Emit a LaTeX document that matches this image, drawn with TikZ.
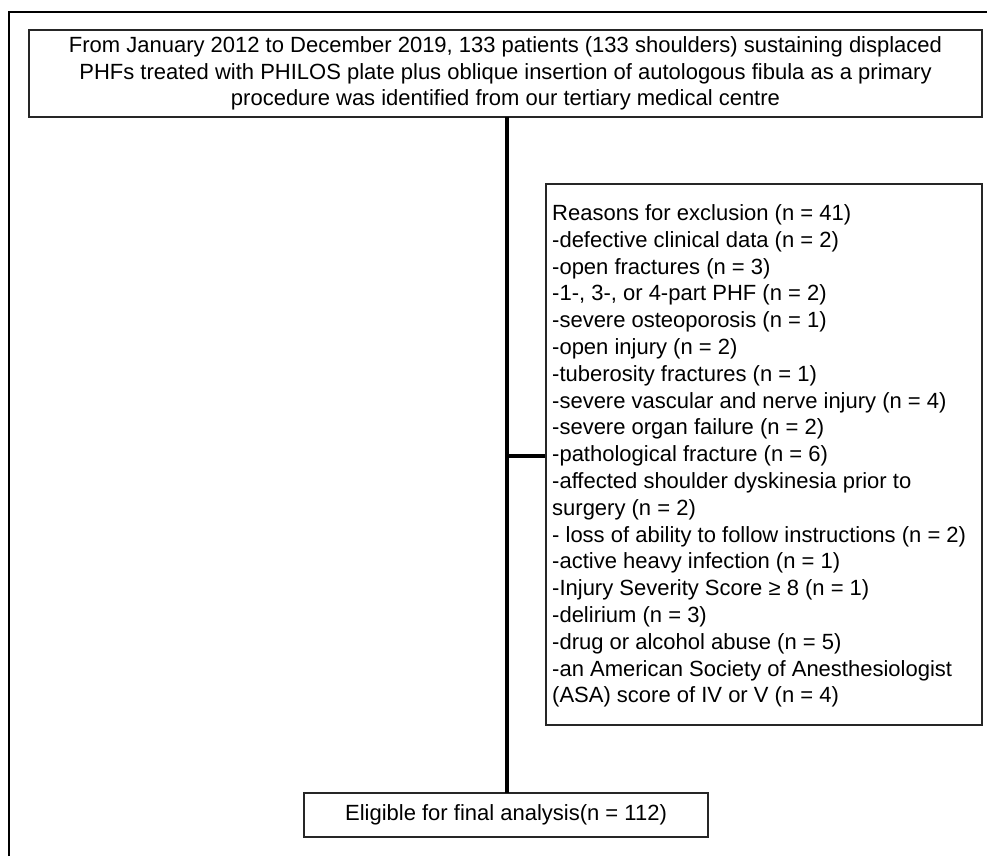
\documentclass[tikz,border=0pt]{standalone}
\usepackage{fontspec}
\setmainfont{Liberation Sans}
\begin{document}
\begin{tikzpicture}[x=1pt,y=-1pt,
  boxstyle/.style={draw=black!85, line width=1.8pt, fill=white, inner sep=0pt,
    font=\fontsize{22}{26.4}\selectfont},
  conn/.style={draw=black, line width=4pt},
  frame/.style={draw=black, line width=2.6pt}]
\useasboundingbox (0,0) rectangle (987,856);
\draw[frame] (9,856) -- (9,12) -- (987,12);
\node[boxstyle, minimum width=953pt, minimum height=87pt, align=center] (top) at (505.5,73.5)
  {From January 2012 to December 2019, 133 patients (133 shoulders) sustaining displaced\\
   PHFs treated with PHILOS plate plus oblique insertion of autologous fibula as a primary\\
   procedure was identified from our tertiary medical centre};
\node[boxstyle, minimum width=436pt, minimum height=541pt] (excl) at (764,454.5) {};
\node[inner sep=0pt, anchor=west, align=left,
  font=\fontsize{22}{26.8}\selectfont] (excltext) at (552,456)
  {Reasons for exclusion (n = 41)\\
   -defective clinical data (n = 2)\\
   -open fractures (n = 3)\\
   -1-, 3-, or 4-part PHF (n = 2)\\
   -severe osteoporosis (n = 1)\\
   -open injury (n = 2)\\
   -tuberosity fractures (n = 1)\\
   -severe vascular and nerve injury (n = 4)\\
   -severe organ failure (n = 2)\\
   -pathological fracture (n = 6)\\
   -affected shoulder dyskinesia prior to\\
   surgery (n = 2)\\
   - loss of ability to follow instructions (n = 2)\\
   -active heavy infection (n = 1)\\
   -Injury Severity Score ≥ 8 (n = 1)\\
   -delirium (n = 3)\\
   -drug or alcohol abuse (n = 5)\\
   -an American Society of Anesthesiologist\\
   (ASA) score of IV or V (n = 4)};
\node[boxstyle, minimum width=404pt, minimum height=44pt] (final) at (506,815)
  {Eligible for final analysis(n = 112)};
\coordinate (topout) at (507,117);
\coordinate (finin) at (507,793);
\coordinate (br) at (507,456);
\draw[conn] (topout) -- (finin);
\draw[conn] (br) -- (excl.west |- br);
\end{tikzpicture}
\end{document}
